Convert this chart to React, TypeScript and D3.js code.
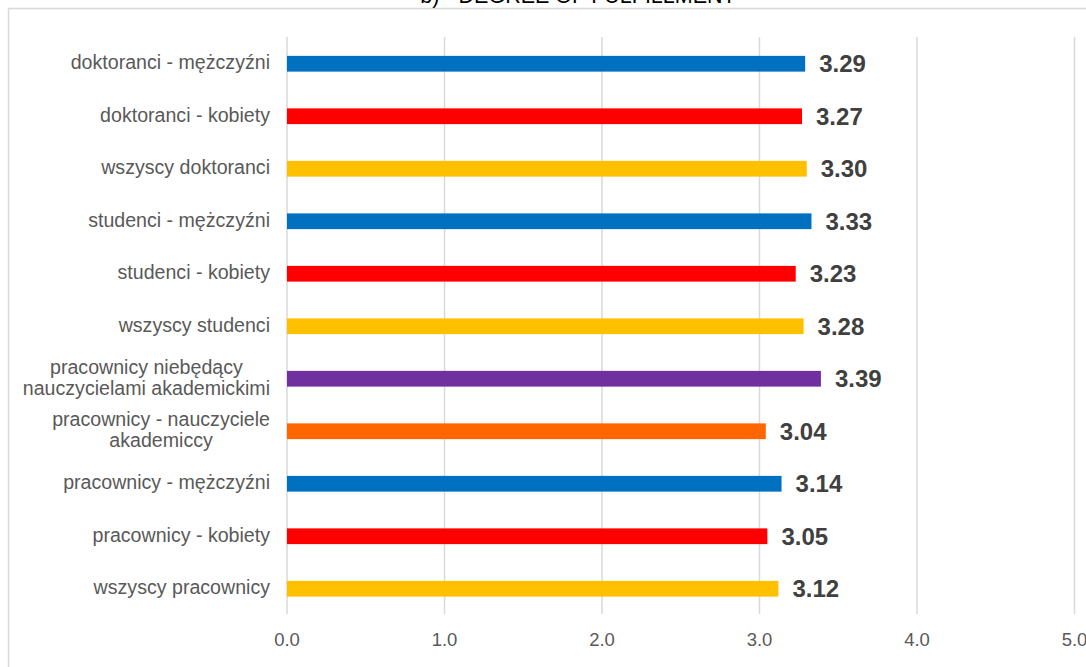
import React, { useEffect, useRef } from "react";
import * as d3 from "d3";

const categories: string[] = [
  "doktoranci - mężczyźni",
  "doktoranci - kobiety",
  "wszyscy doktoranci",
  "studenci - mężczyźni",
  "studenci - kobiety",
  "wszyscy studenci",
  "pracownicy niebędący\nnauczycielami akademickimi",
  "pracownicy - nauczyciele\nakademiccy",
  "pracownicy - mężczyźni",
  "pracownicy - kobiety",
  "wszyscy pracownicy",
];
const values: number[] = [3.29, 3.27, 3.3, 3.33, 3.23, 3.28, 3.39, 3.04, 3.14, 3.05, 3.12];
const barColors: string[] = [
  "#0070C0", "#FF0000", "#FFC000", "#0070C0", "#FF0000", "#FFC000",
  "#7030A0", "#FF6600", "#0070C0", "#FF0000", "#FFC000",
];
const xTicks: number[] = [0, 1, 2, 3, 4, 5];
const title = "b) - DEGREE OF FULFILLMENT";

const W = 1086;
const H = 667;
const FONT = "'Liberation Sans', Arial, sans-serif";

export default function App() {
  const ref = useRef<SVGSVGElement>(null);

  useEffect(() => {
    const svg = d3.select(ref.current);
    svg.selectAll("*").remove();

    const x = d3.scaleLinear().domain([0, 5]).range([287, 1074.5]);
    const y = d3
      .scaleBand<string>()
      .domain(categories)
      .range([37.5, 615])
      .paddingInner(0.7)
      .paddingOuter(0.35);

    svg.append("rect").attr("width", W).attr("height", H).attr("fill", "#fff");

    // chart border
    svg
      .append("path")
      .attr("d", `M8.5,${H + 2} L8.5,8.5 L${W + 2},8.5`)
      .attr("fill", "none")
      .attr("stroke", "#d9d9d9")
      .attr("stroke-width", 1.5);

    // title (mostly cropped, as in the reference)
    svg
      .append("text")
      .attr("x", 578)
      .attr("y", 3)
      .attr("text-anchor", "middle")
      .attr("font-family", FONT)
      .attr("font-size", 21.5)
      .attr("fill", "#000")
      .text(title);

    // gridlines
    svg
      .append("g")
      .selectAll("line")
      .data(xTicks)
      .join("line")
      .attr("x1", (d) => x(d))
      .attr("x2", (d) => x(d))
      .attr("y1", 37)
      .attr("y2", 614)
      .attr("stroke", "#d9d9d9")
      .attr("stroke-width", 1.5);

    // tick labels
    svg
      .append("g")
      .selectAll("text")
      .data(xTicks)
      .join("text")
      .attr("x", (d) => x(d))
      .attr("y", 646)
      .attr("text-anchor", "middle")
      .attr("font-family", FONT)
      .attr("font-size", 18.5)
      .attr("fill", "#595959")
      .text((d) => d3.format(".1f")(d));

    // bars
    svg
      .append("g")
      .selectAll("rect")
      .data(categories)
      .join("rect")
      .attr("x", x(0))
      .attr("y", (d) => y(d)!)
      .attr("width", (_d, i) => x(values[i]) - x(0))
      .attr("height", y.bandwidth())
      .attr("fill", (_d, i) => barColors[i]);

    // value labels
    svg
      .append("g")
      .selectAll("text")
      .data(categories)
      .join("text")
      .attr("x", (_d, i) => x(values[i]) + 14)
      .attr("y", (d) => y(d)! + y.bandwidth() / 2)
      .attr("dy", "0.36em")
      .attr("font-family", FONT)
      .attr("font-size", 24)
      .attr("font-weight", "bold")
      .attr("fill", "#404040")
      .text((_d, i) => values[i].toFixed(2));

    // category labels
    const labelRight = 270;
    const lineH = 21;
    const gLab = svg.append("g");
    categories.forEach((c) => {
      const lines = c.split("\n");
      const cy = y(c)! + y.bandwidth() / 2;
      const t = gLab
        .append("text")
        .attr("font-family", FONT)
        .attr("font-size", 19.6)
        .attr("fill", "#595959")
        .attr("text-anchor", "middle");
      const spans = lines.map((ln, i) =>
        t
          .append("tspan")
          .attr("y", cy + 5.5 + (i - (lines.length - 1) / 2) * lineH)
          .text(ln)
      );
      let maxW = 0;
      spans.forEach((s) => {
        const n = s.node() as SVGTSpanElement;
        maxW = Math.max(maxW, n.getComputedTextLength());
      });
      spans.forEach((s) => s.attr("x", labelRight - maxW / 2));
    });
  }, []);

  return (
    <svg
      ref={ref}
      width={W}
      height={H}
      style={{ position: "absolute", left: 0, top: 0, display: "block" }}
    />
  );
}
